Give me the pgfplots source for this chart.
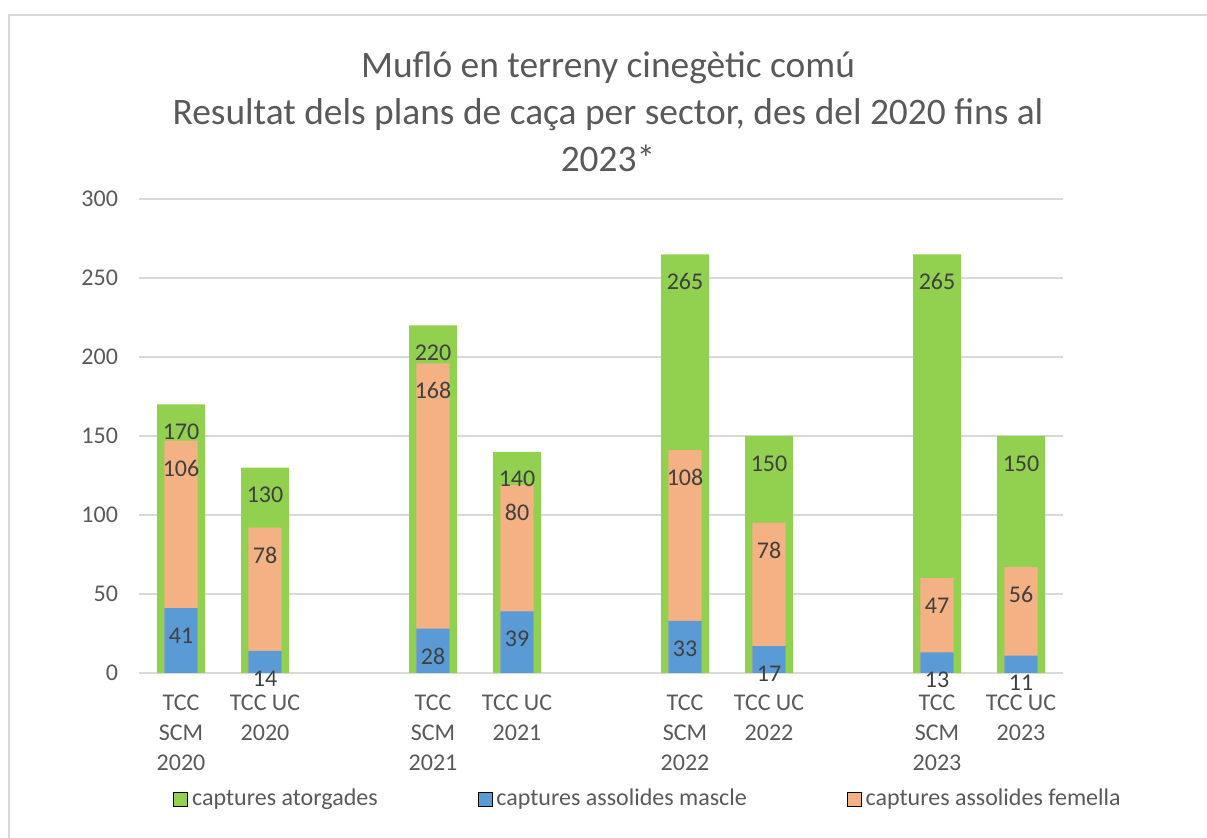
\documentclass[border=0pt]{standalone}
\usepackage{fontspec}
\setmainfont{Carlito}
\usepackage{pgfplots}
\pgfplotsset{compat=1.18}
\usepackage{pgfplotstable}
\definecolor{cgreen}{HTML}{92D050}
\definecolor{cblue}{HTML}{5B9BD5}
\definecolor{corange}{HTML}{F4B183}
\definecolor{clabel}{HTML}{404040}
\definecolor{ctick}{HTML}{595959}
\definecolor{cgrid}{HTML}{D9D9D9}
\pgfplotstableread{
x a m f
0 170 41 106
1 130 14 78
3 220 28 168
4 140 39 80
6 265 33 108
7 150 17 78
9 265 13 47
10 150 11 56
}\datatable
\begin{document}
\begin{tikzpicture}
\useasboundingbox (0,0) rectangle (603.5pt,419pt);
\draw[cgrid, line width=0.75pt] (4.5pt,-2pt) -- (4.5pt,411.5pt) -- (606pt,411.5pt);
\node[anchor=base, font=\fontsize{18.7}{21.5}\selectfont, text=ctick, inner sep=0pt] at (304pt,380pt) {Mufló en terreny cinegètic comú};
\node[anchor=base, font=\fontsize{18.7}{21.5}\selectfont, text=ctick, inner sep=0pt] at (304pt,356.5pt) {Resultat dels plans de caça per sector, des del 2020 fins al};
\node[anchor=base, font=\fontsize{18.7}{21.5}\selectfont, text=ctick, inner sep=0pt] at (304pt,333pt) {2023*};
\begin{axis}[
  at={(69.5pt,82.5pt)}, anchor=south west, scale only axis,
  width=462pt, height=237pt,
  xmin=-0.5, xmax=10.5, ymin=0, ymax=300,
  ytick={0,50,...,300},
  xtick={0,1,3,4,6,7,9,10},
  xticklabels={{TCC\\SCM\\2020},{TCC UC\\2020},{TCC\\SCM\\2021},{TCC UC\\2021},{TCC\\SCM\\2022},{TCC UC\\2022},{TCC\\SCM\\2023},{TCC UC\\2023}},
  major tick length=0pt,
  axis line style={draw=none},
  ymajorgrids, grid style={cgrid, line width=0.75pt},
  /pgf/number format/assume math mode=true,
  ticklabel style={text=ctick, font=\fontsize{12}{15}\selectfont},
  xticklabel style={align=center, yshift=-7.5pt},
  yticklabel style={xshift=-7pt},
  ybar,
  legend columns=3,
  legend style={at={(0.552,-0.266)}, anchor=center, draw=none, fill=none,
    font=\fontsize{12}{14}\selectfont, text=ctick,
    /tikz/every even column/.append style={column sep=48pt}},
  legend image code/.code={\fill[#1] (0pt,-3.5pt) rectangle (7pt,3.5pt);},
  nodes near coords align={center},
  every node near coord/.append style={text=clabel, font=\fontsize{12}{14}\selectfont, yshift=-13.75pt},
]
\addlegendimage{fill=cgreen}
\addlegendentry{captures atorgades}
\addlegendimage{fill=cblue}
\addlegendentry{captures assolides mascle}
\addlegendimage{fill=corange}
\addlegendentry{captures assolides femella}
\addplot[forget plot, ybar, bar shift=0pt, bar width=24pt, fill=cgreen, draw=none] table[x=x, y=a] {\datatable};
\addplot[forget plot, ybar, bar shift=0pt, bar width=16.7pt, fill=corange, draw=none,
  nodes near coords, point meta=explicit] table[x=x, y expr=\thisrow{m}+\thisrow{f}, meta=f] {\datatable};
\addplot[forget plot, ybar, bar shift=0pt, bar width=16.7pt, fill=cblue, draw=none,
  nodes near coords, point meta=explicit] table[x=x, y=m, meta=m] {\datatable};
\addplot[forget plot, ybar, bar shift=0pt, bar width=24pt, fill=none, draw=none,
  nodes near coords, point meta=explicit] table[x=x, y=a, meta=a] {\datatable};
\end{axis}
\end{tikzpicture}
\end{document}
